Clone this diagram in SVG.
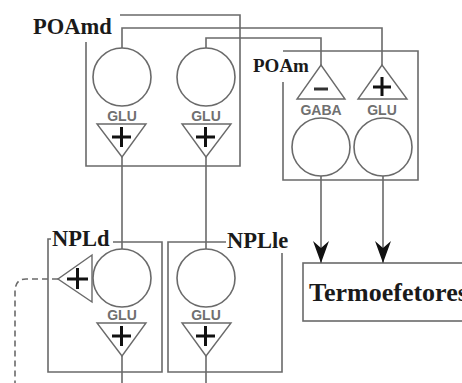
<svg xmlns="http://www.w3.org/2000/svg" width="462" height="383" viewBox="0 0 462 383">
<defs>
<style>
.ln{fill:none;stroke:#6a6a6a;stroke-width:1.6}
.cell{fill:#fff;stroke:#6a6a6a;stroke-width:1.6}
.tri{fill:#fff;stroke:#6a6a6a;stroke-width:1.4}
.plus{stroke:#111;stroke-width:3;fill:none}
.minus{stroke:#333;stroke-width:3;fill:none}
.lbl{font-family:"Liberation Serif","Times New Roman",serif;font-weight:bold;fill:#1a1a1a}
.nt{font-family:"Liberation Sans",Arial,sans-serif;font-weight:bold;font-size:14px;fill:#707070;text-anchor:middle}
</style>
<marker id="arr" viewBox="0 0 22 16" refX="22" refY="8" markerWidth="22" markerHeight="16" markerUnits="userSpaceOnUse" orient="auto">
<path d="M0,0 L7,8 L0,16 L22,8 Z" fill="#111"/>
</marker>
</defs>
<rect width="462" height="383" fill="#fff"/>

<g id="POAmd">
<path class="ln" d="M120,15 H240 V166 H86 V42"/>
<text class="lbl" x="33" y="34" font-size="22.5">POAmd</text>
<circle class="cell" cx="122" cy="77" r="29"/>
<circle class="cell" cx="206" cy="77" r="29"/>
<text class="nt" x="122" y="121">GLU</text>
<text class="nt" x="206" y="121">GLU</text>
<path class="tri" d="M97,124 H146 L122,157 Z"/>
<path class="tri" d="M182,124 H231 L206,157 Z"/>
<path class="plus" d="M112,137 H131 M121.5,127 V147"/>
<path class="plus" d="M196,137 H215 M205.5,127 V147"/>
</g>

<g id="POAm">
<path class="ln" d="M283,51 H418 V180 H283 V82"/>
<text class="lbl" x="253" y="72" font-size="19">POAm</text>
<path class="tri" d="M297,99 H345 L321,65 Z"/>
<path class="tri" d="M358,99 H407 L382,65 Z"/>
<path class="minus" d="M314,89 H328"/>
<path class="plus" d="M373,87 H391 M382,77 V96"/>
<text class="nt" x="321" y="115" font-size="13">GABA</text>
<text class="nt" x="382" y="115">GLU</text>
<circle class="cell" cx="321" cy="147" r="29"/>
<circle class="cell" cx="383" cy="147" r="29"/>
</g>

<g id="NPLd">
<path class="ln" d="M113,242 H162 V372 H48 V239 H51"/>
<text class="lbl" x="52" y="246" font-size="22.5">NPLd</text>
<circle class="cell" cx="122" cy="278" r="29"/>
<path class="tri" d="M92,255 V302 L58,279 Z"/>
<path class="plus" d="M67,279 H88 M77.5,268 V289"/>
<text class="nt" x="122" y="320">GLU</text>
<path class="tri" d="M97,323 H146 L122,356 Z"/>
<path class="plus" d="M112,336 H131 M121.5,326 V346"/>
</g>

<g id="NPLle">
<path class="ln" d="M226,242 H168 V372 H282 V253"/>
<text class="lbl" x="227" y="248" font-size="22.5">NPLle</text>
<circle class="cell" cx="206" cy="278" r="29"/>
<text class="nt" x="206" y="320">GLU</text>
<path class="tri" d="M182,323 H231 L206,356 Z"/>
<path class="plus" d="M196,336 H215 M205.5,326 V346"/>
</g>

<g id="Termoefetores">
<rect class="cell" x="303" y="263" width="200" height="58"/>
<text class="lbl" x="309" y="301" font-size="26">Termoefetores</text>
</g>

<g id="connectors">
<path class="ln" d="M122,48 V28 H382 V65"/>
<path class="ln" d="M206,48 V38 H321 V65"/>
<path class="ln" d="M122,157 V249"/>
<path class="ln" d="M206,157 V249"/>
<path class="ln" d="M122,356 V383"/>
<path class="ln" d="M206,356 V383"/>
<path class="ln" d="M321,176 V263" marker-end="url(#arr)"/>
<path class="ln" d="M383,176 V263" marker-end="url(#arr)"/>
<path class="ln" d="M58,279 H26 Q15,279 15,292 V383" stroke-dasharray="6,4"/>
</g>
</svg>
